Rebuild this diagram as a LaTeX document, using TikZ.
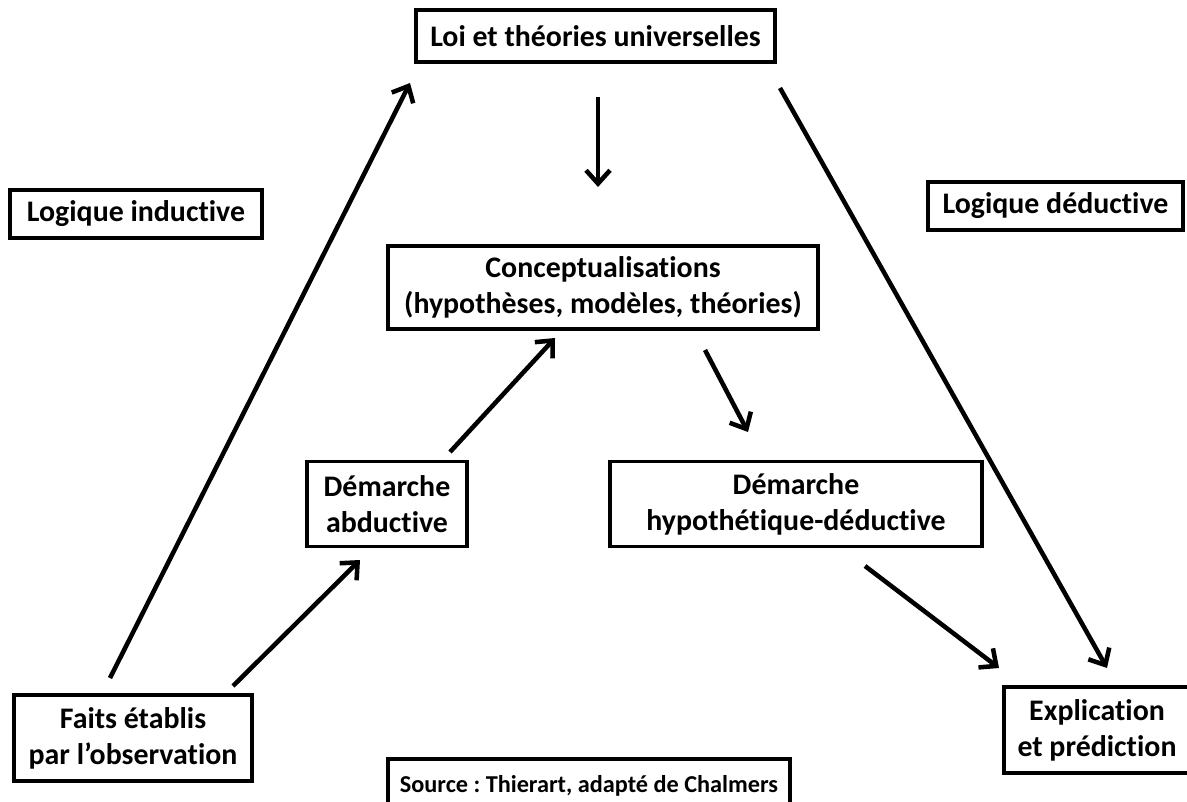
\documentclass[tikz,border=0pt]{standalone}
\usepackage{fontspec}
\setmainfont{Carlito}[RawFeature=-liga]
\usetikzlibrary{arrows.meta}
\frenchspacing
\begin{document}
\begin{tikzpicture}[x=0.75pt,y=-0.75pt,
  box/.style={draw,line width=2.6pt,inner sep=0pt,align=center,
    font=\fontsize{22.4}{27}\selectfont\bfseries},
  flow/.style={line width=3.4pt,-{Straight Barb[length=10pt,width=18pt]}}]
\useasboundingbox[fill=white] (0,0) rectangle (1187,802);

% boxes (sizes in pt, positions in px units)
\node[box,minimum width=269.25pt,minimum height=39pt] (loi) at (595.5,36) {Loi et théories universelles};
\node[box,minimum width=189pt,minimum height=36pt] (ind) at (136,214) {Logique inductive};
\node[box,minimum width=191.25pt,minimum height=36pt] (ded) at (1055.5,206) {Logique déductive};
\node[box,minimum width=322.5pt,minimum height=62.25pt] (conc) at (603,287.5) {Conceptualisations\\(hypothèses, modèles, théories)};
\node[box,minimum width=120pt,minimum height=63.75pt] (abd) at (387,504) {Démarche\\abductive};
\node[box,minimum width=279pt,minimum height=63.75pt] (hyp) at (796,504) {Démarche\\hypothétique-déductive};
\node[box,minimum width=178.5pt,minimum height=64.5pt] (faits) at (133,738) {Faits établis\\par l’observation};
\node[box,minimum width=139.5pt,minimum height=64.5pt] (expl) at (1097,730) {Explication\\et prédiction};
\node[box,minimum width=301.5pt,minimum height=40.5pt,font=\fontsize{18.2}{22}\selectfont\bfseries] (src) at (589,786) {Source : Thierart, adapté de Chalmers};

% arrow ends
\coordinate (a1s) at (110,678);  \coordinate (a1e) at (410,83);
\coordinate (a2s) at (780,88);   \coordinate (a2e) at (1107,668);
\coordinate (a3s) at (598,97);   \coordinate (a3e) at (598,187);
\coordinate (a4s) at (233,686);  \coordinate (a4e) at (360,560);
\coordinate (a5s) at (450,452);  \coordinate (a5e) at (555,338);
\coordinate (a6s) at (705,350);  \coordinate (a6e) at (748,432);
\coordinate (a7s) at (865,566);  \coordinate (a7e) at (999,668);

% arrows
\draw[flow] (a1s) -- (a1e);
\draw[flow] (a2s) -- (a2e);
\draw[flow] (a3s) -- (a3e);
\draw[flow] (a4s) -- (a4e);
\draw[flow] (a5s) -- (a5e);
\draw[flow] (a6s) -- (a6e);
\draw[flow] (a7s) -- (a7e);
\end{tikzpicture}
\end{document}
